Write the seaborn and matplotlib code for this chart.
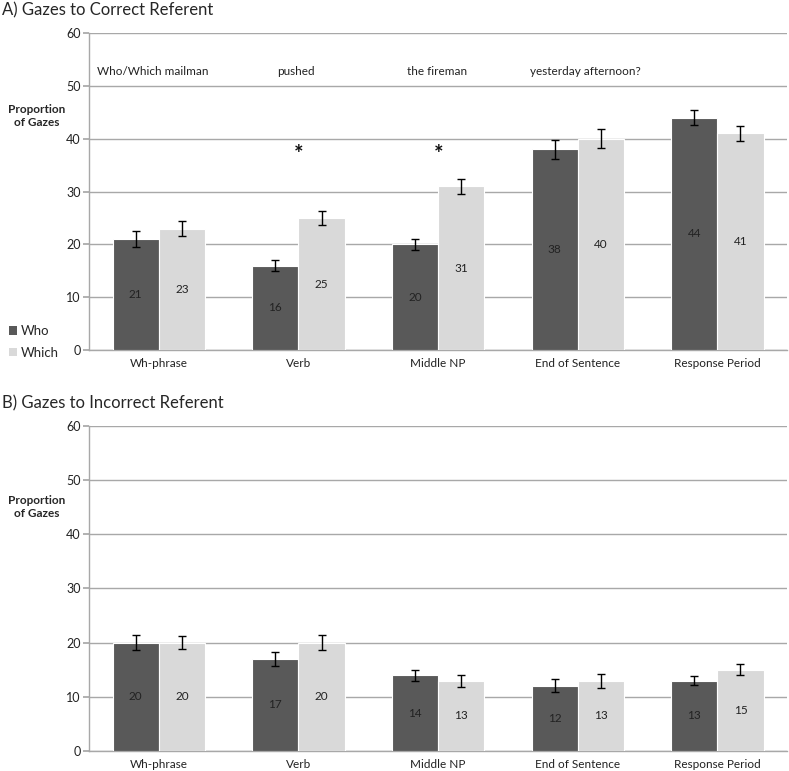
import matplotlib

matplotlib.use("Agg")
import matplotlib.pyplot as plt
import numpy as np
import pandas as pd
import seaborn as sns
from matplotlib.patches import Patch

categories = ["Wh-phrase", "Verb", "Middle NP", "End of Sentence", "Response Period"]
groups = ["Who", "Which"]

correct_who = [21, 16, 20, 38, 44]
correct_which = [23, 25, 31, 40, 41]
correct_who_err = [1.5, 1.1, 1.1, 1.8, 1.4]
correct_which_err = [1.4, 1.4, 1.4, 1.8, 1.5]

incorrect_who = [20, 17, 14, 12, 13]
incorrect_which = [20, 20, 13, 13, 15]
incorrect_who_err = [1.45, 1.25, 1.0, 1.2, 0.75]
incorrect_which_err = [1.15, 1.4, 1.1, 1.3, 1.0]

sentence_words = ["Who/Which mailman", "pushed", "the fireman", "yesterday afternoon?"]
word_x = [0.06, 1.35, 2.28, 3.16]
starred = ["Verb", "Middle NP"]

COLORS = {"Who": "#595959", "Which": "#d9d9d9"}
GRID = "#a8a8a8"

sns.set_theme(style="white")
plt.rcParams["font.family"] = ["Lato", "DejaVu Sans"]


def make_frame(who, which, who_err, which_err):
    rows = []
    for i, cat in enumerate(categories):
        rows.append({"segment": cat, "group": "Who", "value": who[i], "err": who_err[i]})
        rows.append({"segment": cat, "group": "Which", "value": which[i], "err": which_err[i]})
    return pd.DataFrame(rows)


def draw_panel(ax, frame):
    sns.barplot(data=frame, x="segment", y="value", hue="group", order=categories,
                hue_order=groups, palette=COLORS, width=0.66, errorbar=None,
                edgecolor="white", linewidth=0.8, legend=False, ax=ax, zorder=3)
    for container, grp in zip(ax.containers, groups):
        sub = frame[frame["group"] == grp].set_index("segment").loc[categories]
        xs = [p.get_x() + p.get_width() / 2 for p in container.patches]
        ax.errorbar(xs, sub["value"], yerr=sub["err"], fmt="none", ecolor="black",
                    elinewidth=1, capsize=3, capthick=1, zorder=4)
        ax.bar_label(container, labels=[f"{v:g}" for v in sub["value"]],
                     label_type="center", fontsize=8.5, color="#222222")
    ax.set_ylim(0, 60)
    ax.set_xlim(-0.5, len(categories) - 0.5)
    ax.set_yticks(np.arange(0, 61, 10))
    ax.yaxis.grid(True, color=GRID, linewidth=1, zorder=0)
    ax.set_axisbelow(True)
    ax.set_xlabel("")
    ax.set_ylabel("")
    for side in ["top", "right"]:
        ax.spines[side].set_visible(False)
    for side in ["left", "bottom"]:
        ax.spines[side].set_color(GRID)
        ax.spines[side].set_linewidth(1)
    ax.set_xticks(np.arange(0.5, len(categories)), minor=True)
    ax.tick_params(axis="x", which="major", length=0, labelsize=8.5, pad=6, colors="#222222")
    ax.tick_params(axis="x", which="minor", length=4, color=GRID, direction="out")
    ax.tick_params(axis="y", length=4, color=GRID, labelsize=9, left=True,
                   labelcolor="#222222", pad=2)


fig = plt.figure(figsize=(7.89, 7.71), dpi=100)
ax_top = fig.add_axes([0.1128, 0.546, 0.885, 0.411])
ax_bot = fig.add_axes([0.1128, 0.026, 0.885, 0.4215])

draw_panel(ax_top, make_frame(correct_who, correct_which, correct_who_err, correct_which_err))
draw_panel(ax_bot, make_frame(incorrect_who, incorrect_which, incorrect_who_err, incorrect_which_err))

for word, x in zip(sentence_words, word_x):
    ax_top.text(x - 0.5, 52.8, word, fontsize=8.5, ha="left", va="center", color="#222222")
for cat in starred:
    ax_top.text(categories.index(cat), 37.0, "*", fontsize=16, fontweight="bold",
                ha="center", va="center", color="#111111")

fig.text(0.003, 0.987, "A) Gazes to Correct Referent", fontsize=12, ha="left", va="center")
fig.text(0.003, 0.477, "B) Gazes to Incorrect Referent", fontsize=12, ha="left", va="center")
for y in [1 - 116 / 771, 1 - 507 / 771]:
    fig.text(0.046, y, "Proportion\nof Gazes", fontsize=8.5, fontweight="bold",
             ha="center", va="center", linespacing=1.25)

handles = [Patch(facecolor=COLORS[g], edgecolor="none", label=g) for g in groups]
fig.legend(handles=handles, loc="upper left", bbox_to_anchor=(0.005, 1 - 320 / 771),
           frameon=False, fontsize=9.5, handlelength=0.6, handleheight=0.6,
           handletextpad=0.3, labelspacing=0.7, borderaxespad=0)

fig.savefig("out.png", dpi=100)
plt.close(fig)
